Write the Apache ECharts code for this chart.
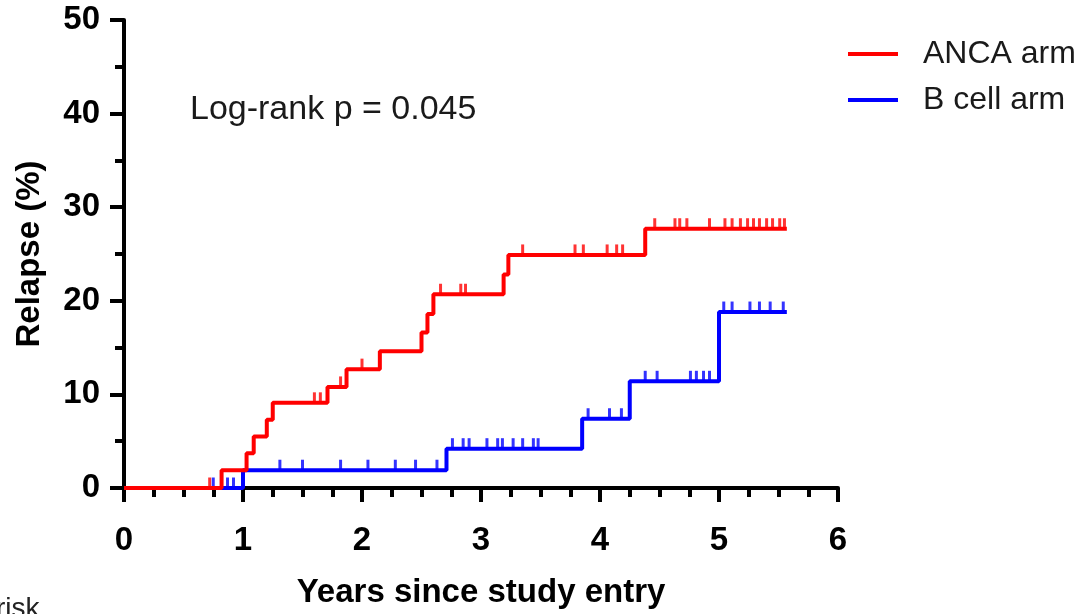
<!DOCTYPE html>
<html>
<head>
<meta charset="utf-8">
<script src="https://cdn.jsdelivr.net/npm/echarts@6/dist/echarts.min.js"></script>
<style>
  html, body { margin: 0; padding: 0; background: #fff; }
  #chart { width: 1081px; height: 614px; }
</style>
</head>
<body>
<div id="chart"></div>
<script>
// step points: time (years) and cumulative relapse (%)
const ancaTimes = [0, 0.82, 1.03, 1.09, 1.2, 1.25, 1.71, 1.87, 2.15, 2.5, 2.55, 2.6, 3.19, 3.23, 4.38, 5.57];
const ancaRelapse = [0, 1.9, 3.7, 5.5, 7.3, 9.1, 10.8, 12.7, 14.6, 16.6, 18.6, 20.7, 22.8, 24.9, 27.7, 27.7];
const ancaCensored = [0.72, 1.6, 1.65, 1.82, 2.0, 2.66, 2.83, 2.87, 3.35, 3.79, 3.86, 4.06, 4.14, 4.19,
  4.46, 4.63, 4.67, 4.73, 4.92, 5.05, 5.11, 5.18, 5.24, 5.29, 5.34, 5.4, 5.45, 5.51, 5.55];

const bcellTimes = [0, 1.0, 2.71, 3.85, 4.25, 5.0, 5.57];
const bcellRelapse = [0, 1.9, 4.2, 7.4, 11.4, 18.8, 18.8];
const bcellCensored = [0.75, 0.87, 0.92, 1.31, 1.5, 1.82, 2.05, 2.28, 2.45, 2.63, 2.76, 2.85, 2.9, 3.05,
  3.14, 3.18, 3.27, 3.35, 3.44, 3.48, 3.9, 4.08, 4.18, 4.38, 4.48, 4.76, 4.81, 4.87, 4.92,
  5.04, 5.11, 5.26, 5.34, 5.43, 5.54];

const xTicks = [0, 1, 2, 3, 4, 5, 6];
const yTicks = [0, 10, 20, 30, 40, 50];

const FONT = 'Liberation Sans, Arial, sans-serif';

function levelAt(times, vals, t) {
  let v = vals[0];
  for (let i = 0; i < times.length; i++) {
    if (times[i] <= t) v = vals[i];
  }
  return v;
}
const pairs = (xs, ys) => xs.map((x, i) => [x, ys[i]]);
const censorPts = (ts, times, vals) => ts.map(t => [t, levelAt(times, vals, t)]);

const myChart = echarts.init(document.getElementById('chart'));
myChart.setOption({
  animation: false,
  grid: { left: 124, right: 243, top: 20, bottom: 119 },
  legend: {
    orient: 'vertical',
    left: 843,
    top: 33,
    itemWidth: 50,
    itemHeight: 4,
    itemGap: 14,
    icon: 'rect',
    data: ['ANCA arm', 'B cell arm'],
    textStyle: { fontFamily: FONT, fontSize: 32, color: '#1a1a1a', padding: [0, 0, 0, 20] }
  },
  graphic: [
    {
      type: 'text', left: 190, top: 93,
      style: { text: 'Log-rank p = 0.045', font: '34px ' + FONT, fill: '#1a1a1a' }
    },
    {
      type: 'text', left: -4, top: 595,
      style: { text: 'risk', font: '28px ' + FONT, fill: '#222' }
    }
  ],
  xAxis: {
    type: 'value', min: xTicks[0], max: xTicks[xTicks.length - 1], interval: 1,
    name: 'Years since study entry', nameLocation: 'middle', nameGap: 88,
    nameTextStyle: { fontFamily: FONT, fontWeight: 'bold', fontSize: 33, color: '#000' },
    axisLine: { lineStyle: { color: '#000', width: 4 } },
    axisTick: { show: true, length: 14, lineStyle: { color: '#000', width: 4 } },
    minorTick: { show: true, splitNumber: 4, length: 9, lineStyle: { color: '#000', width: 4 } },
    splitLine: { show: false },
    axisLabel: { margin: 36, fontFamily: FONT, fontWeight: 'bold', fontSize: 33, color: '#000' }
  },
  yAxis: {
    type: 'value', min: yTicks[0], max: yTicks[yTicks.length - 1], interval: 10,
    name: 'Relapse (%)', nameLocation: 'middle', nameGap: 78, nameRotate: 90,
    nameTextStyle: { fontFamily: FONT, fontWeight: 'bold', fontSize: 33, color: '#000' },
    axisLine: { show: true, lineStyle: { color: '#000', width: 4 } },
    axisTick: { show: true, length: 14, lineStyle: { color: '#000', width: 4 } },
    minorTick: { show: true, splitNumber: 2, length: 9, lineStyle: { color: '#000', width: 4 } },
    splitLine: { show: false },
    axisLabel: { margin: 24, fontFamily: FONT, fontWeight: 'bold', fontSize: 33, color: '#000' }
  },
  series: [
    {
      name: 'B cell arm', type: 'line', step: 'end', showSymbol: false,
      data: pairs(bcellTimes, bcellRelapse),
      lineStyle: { color: '#0000ff', width: 4 }, itemStyle: { color: '#0000ff' }
    },
    {
      name: 'B cell censored', type: 'scatter', symbol: 'rect', symbolSize: [3, 11], symbolOffset: [0, -5],
      data: censorPts(bcellCensored, bcellTimes, bcellRelapse),
      itemStyle: { color: '#0000ff' }
    },
    {
      name: 'ANCA arm', type: 'line', step: 'end', showSymbol: false,
      data: pairs(ancaTimes, ancaRelapse),
      lineStyle: { color: '#ff0000', width: 4 }, itemStyle: { color: '#ff0000' }
    },
    {
      name: 'ANCA censored', type: 'scatter', symbol: 'rect', symbolSize: [3, 11], symbolOffset: [0, -5],
      data: censorPts(ancaCensored, ancaTimes, ancaRelapse),
      itemStyle: { color: '#ff0000' }
    }
  ]
});
</script>
</body>
</html>
